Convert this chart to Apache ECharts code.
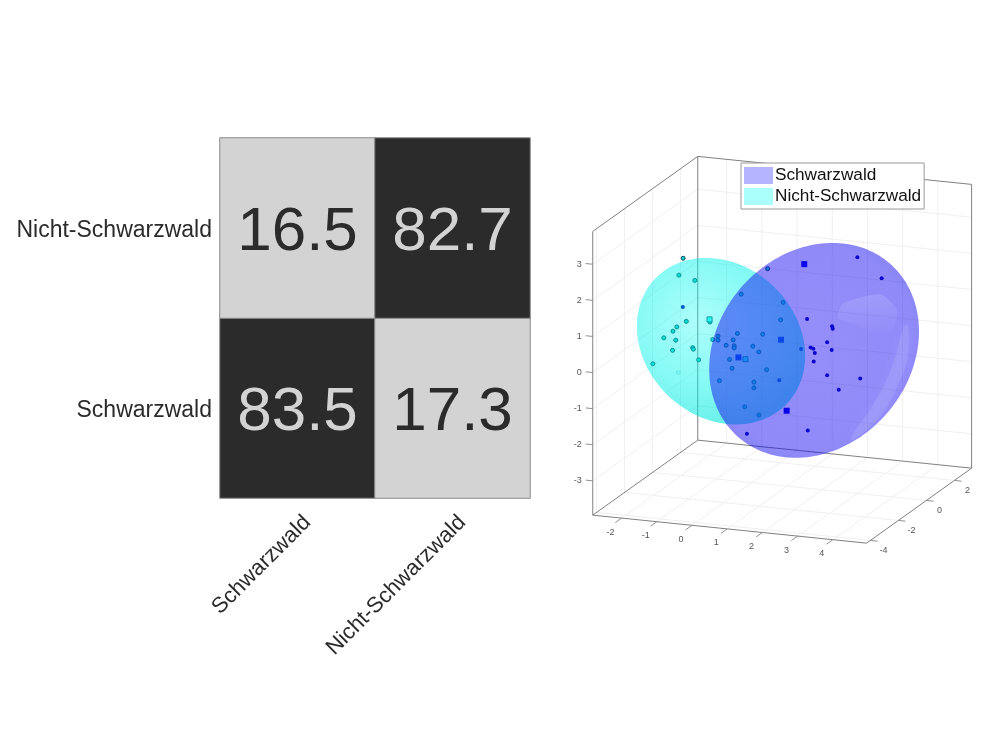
<!DOCTYPE html>
<html>
<head>
<meta charset="utf-8">
<style>html,body{margin:0;padding:0;background:#fff}#chart{width:1000px;height:750px}</style>
<script src="https://cdn.jsdelivr.net/npm/echarts@6/dist/echarts.min.js"></script>
</head>
<body>
<div id="chart"></div>
<script>
// Confusion matrix
const classNames = ['Schwarzwald', 'Nicht-Schwarzwald'];
const matrixRowSchwarzwald = [83.5, 17.3];
const matrixRowNicht = [16.5, 82.7];

// Axis ranges and ticks of the 3D feature space
const xLimits = [-2.82, 4.96];
const yLimits = [-4.27, 3.23];
const zLimits = [-3.95, 3.91];
const xTicks = [-2, -1, 0, 1, 2, 3, 4];
const yTicks = [-4, -2, 0, 2];
const zTicks = [-3, -2, -1, 0, 1, 2, 3];

// Samples, all placed on the plane y = sampleDepth
const sampleDepth = 0;
const cyanX = [-1.95,-2.07,-1.62,-1.86,-2.13,-2.24,-2.50,-2.16,-2.25,-1.68,-1.66,-2.81,-1.51,-1.19,-1.11,-0.96,-0.96,-0.41,-0.53,-0.73,-0.50,-0.50,0.03,0.20,-0.63,-0.56,0.42,-0.30,0.45,0.89,0.82,0.31,-0.92,0.06,0.06,-0.20,0.20];
const cyanZ = [2.07,1.59,1.49,0.33,0.15,0.02,-0.19,-0.22,-0.51,-0.38,-0.42,-0.94,-0.70,0.38,-0.10,0.01,-0.10,0.14,-0.05,-0.22,-0.21,-0.27,-0.17,-0.31,-0.60,-0.84,-0.78,1.24,2.02,1.13,0.64,0.19,-1.22,-1.16,-1.32,-1.87,-2.06];
const cyanFaintX = [-2.09];
const cyanFaintZ = [-1.11];
const cyanMeanX = [-1.20, -0.18];
const cyanMeanZ = [0.45, -0.55];
const blueX = [-1.96,1.40,1.57,3.00,3.69,2.28,2.30,2.14,1.67,1.75,2.27,1.79,1.76,2.14,3.08,2.47,0.78,1.59,-0.14];
const blueZ = [0.72,-0.11,0.74,2.59,2.08,0.61,0.54,0.15,-0.04,-0.07,-0.05,-0.18,-0.42,-0.76,-0.76,-1.13,-1.04,-2.35,-2.61];
const blueMeanX = [1.49, 0.83, -0.38, 0.99];
const blueMeanZ = [2.25, 0.09, -0.52, -1.86];

// Confidence ellipsoids: centre and the two semi-axes that span the outline
const cyanCentre = [-0.875, 0, -0.12];
const cyanAxisA = [2.39, 0, -0.17];
const cyanAxisB = [0, 0, 2.27];
const blueCentre = [1.77, 0, -0.11];
const blueAxisA = [2.98, 0, 0.82];
const blueAxisB = [0, 0, 2.93];

// Orthographic view used for the 3D panel
const viewOrigin = [751.8, 340];
const viewX = [35.2, 3.6];
const viewY = [14, -10];
const viewZ = [0, -36.1];
function project(x, y, z) {
  return [
    viewOrigin[0] + x * viewX[0] + y * viewY[0] + z * viewZ[0],
    viewOrigin[1] + x * viewX[1] + y * viewY[1] + z * viewZ[1]
  ];
}

const FONT = '"Liberation Sans", Arial, sans-serif';
const LIGHT = '#d3d3d3';
const DARK = '#2b2b2b';

// Heatmap cells
const cells = [];
[matrixRowSchwarzwald, matrixRowNicht].forEach((row, r) => row.forEach((v, c) => {
  const high = v > 50;
  cells.push({
    value: [c, r, v],
    itemStyle: { color: high ? DARK : LIGHT },
    label: { color: high ? LIGHT : DARK }
  });
}));

// Box wireframe
const [x0, x1] = xLimits, [y0, y1] = yLimits, [z0, z1] = zLimits;
const gridSegs = [];
xTicks.forEach(t => { gridSegs.push([t, y1, z0, t, y1, z1], [t, y0, z0, t, y1, z0]); });
yTicks.forEach(t => { gridSegs.push([x0, t, z0, x0, t, z1], [x0, t, z0, x1, t, z0]); });
zTicks.forEach(t => { gridSegs.push([x0, y0, t, x0, y1, t], [x0, y1, t, x1, y1, t]); });
const edgeSegs = [
  [x0, y0, z0, x1, y0, z0], [x1, y0, z0, x1, y1, z0], [x1, y1, z0, x0, y1, z0], [x0, y1, z0, x0, y0, z0],
  [x0, y0, z0, x0, y0, z1], [x0, y1, z0, x0, y1, z1], [x1, y1, z0, x1, y1, z1],
  [x0, y0, z1, x0, y1, z1], [x0, y1, z1, x1, y1, z1]
];
const tickSegs = [];
xTicks.forEach(t => tickSegs.push([t, y0, z0, t, y0 - 0.45, z0]));
yTicks.forEach(t => tickSegs.push([x1, t, z0, x1 + 0.2, t, z0]));
zTicks.forEach(t => tickSegs.push([x0, y0, t, x0 - 0.2, y0, t]));

function segmentSeries(name, segs, color, width, z) {
  return {
    type: 'custom', name, xAxisIndex: 1, yAxisIndex: 1, z, silent: true, clip: false,
    data: segs,
    renderItem(params, api) {
      const a = api.coord(project(api.value(0), api.value(1), api.value(2)));
      const b = api.coord(project(api.value(3), api.value(4), api.value(5)));
      return { type: 'line', shape: { x1: a[0], y1: a[1], x2: b[0], y2: b[1] }, style: { stroke: color, lineWidth: width, fill: null } };
    }
  };
}

// Tick labels of the three axes
const tickTexts = [];
xTicks.forEach(t => tickTexts.push({ p: [t, y0, z0], dx: -11, dy: 14, text: String(t), align: 'center' }));
yTicks.forEach(t => tickTexts.push({ p: [x1, t, z0], dx: 13, dy: 10, text: String(t), align: 'center' }));
zTicks.forEach(t => tickTexts.push({ p: [x0, y0, t], dx: -11, dy: 0, text: String(t), align: 'right' }));

// Ellipsoid silhouette with its shading
function shellSeries(name, centre, axisA, axisB, gradient, patches, z) {
  const outline = (u, v) => project(
    centre[0] + u * axisA[0] + v * axisB[0],
    centre[1] + u * axisA[1] + v * axisB[1],
    centre[2] + u * axisA[2] + v * axisB[2]);
  return {
    type: 'custom', name, xAxisIndex: 1, yAxisIndex: 1, z, silent: true, clip: false,
    data: [[centre[0], centre[2]]],
    renderItem(params, api) {
      const ring = [];
      for (let i = 0; i < 180; i++) {
        const t = i / 180 * Math.PI * 2;
        ring.push(api.coord(outline(Math.cos(t), Math.sin(t))));
      }
      const children = [{ type: 'polygon', shape: { points: ring }, style: { fill: gradient } }];
      patches.forEach(p => children.push({
        type: 'polygon',
        shape: { points: p.points.map(q => api.coord(outline(q[0], q[1]))), smooth: p.smooth || 0 },
        style: { fill: p.fill, shadowBlur: p.blur || 0, shadowColor: p.blur ? 'rgba(255,255,255,0.5)' : 'transparent' }
      }));
      return { type: 'group', children };
    }
  };
}
function crescent(a0, a1, rows) {
  const outer = [], inner = [];
  rows.forEach((r, i) => {
    const a = (a0 + (a1 - a0) * i / (rows.length - 1)) * Math.PI / 180;
    outer.push([r[1] * Math.cos(a), r[1] * Math.sin(a)]);
    inner.push([r[0] * Math.cos(a), r[0] * Math.sin(a)]);
  });
  return outer.concat(inner.reverse());
}

const cyanShade = new echarts.graphic.RadialGradient(0.36, 0.38, 0.68, [
  { offset: 0, color: 'rgba(0,250,240,0.32)' },
  { offset: 0.5, color: 'rgba(0,245,235,0.46)' },
  { offset: 1, color: 'rgba(0,225,215,0.6)' }
]);
const blueShade = new echarts.graphic.RadialGradient(0.5, 0.5, 0.7, [
  { offset: 0, color: 'rgba(25,10,245,0.46)' },
  { offset: 0.72, color: 'rgba(20,10,240,0.48)' },
  { offset: 1, color: 'rgba(15,0,225,0.54)' }
]);
const blueCap = {
  points: [[0.276, 0.395], [0.63, 0.418], [0.79, 0.242], [0.724, 0], [0.44, 0.153], [0.229, 0.262]],
  smooth: 0.2,
  fill: new echarts.graphic.LinearGradient(0, 0, 0, 1, [
    { offset: 0, color: 'rgba(255,255,255,0.14)' },
    { offset: 1, color: 'rgba(255,255,255,0)' }
  ])
};
const blueRim = {
  points: crescent(5, -68, [[0.86, 0.9], [0.8, 0.92], [0.8, 0.93], [0.84, 0.97], [0.95, 0.99]]),
  smooth: 0.4,
  blur: 8,
  fill: 'rgba(255,255,255,0.09)'
};

const option = {
  animation: false,
  backgroundColor: '#fff',
  textStyle: { fontFamily: FONT },
  legend: {
    left: 741, top: 163, orient: 'vertical',
    padding: [4, 3, 4, 3], itemGap: 4, itemWidth: 29, itemHeight: 17,
    backgroundColor: '#fff', borderColor: '#999', borderWidth: 1,
    textStyle: { fontFamily: FONT, fontSize: 17.2, color: '#111', padding: [1, 0, 0, -3] },
    selectedMode: false,
    data: [
      { name: classNames[0], icon: 'rect', itemStyle: { color: '#b4b4ff', borderWidth: 0 } },
      { name: classNames[1], icon: 'rect', itemStyle: { color: '#aafffb', borderWidth: 0 } }
    ]
  },
  grid: [
    { left: 220, top: 138, width: 310, height: 360 },
    { left: 0, top: 0, width: 1000, height: 750 }
  ],
  xAxis: [
    {
      type: 'category', gridIndex: 0, data: classNames,
      axisLine: { show: false }, axisTick: { show: false }, splitLine: { show: false },
      axisLabel: { rotate: 45, margin: 31, fontSize: 22, color: DARK, fontFamily: FONT, interval: 0, padding: [0, -14, 0, 0] }
    },
    { type: 'value', gridIndex: 1, min: 0, max: 1000, show: false }
  ],
  yAxis: [
    {
      type: 'category', gridIndex: 0, data: classNames,
      axisLine: { show: false }, axisTick: { show: false }, splitLine: { show: false },
      axisLabel: { margin: 8, fontSize: 23, color: DARK, fontFamily: FONT, interval: 0, verticalAlign: 'top', lineHeight: 6 }
    },
    { type: 'value', gridIndex: 1, min: 0, max: 750, inverse: true, show: false }
  ],
  series: [
    {
      type: 'heatmap', name: 'Konfusionsmatrix', xAxisIndex: 0, yAxisIndex: 0, silent: true,
      data: cells,
      itemStyle: { borderColor: '#8a8a8a', borderWidth: 1 },
      label: { show: true, fontSize: 62, fontFamily: FONT, offset: [0, 5], formatter: p => p.value[2].toFixed(1) }
    },
    segmentSeries('Gitter', gridSegs, '#f0f0f0', 1, 1),
    segmentSeries('Rahmen', edgeSegs, '#808080', 1, 2),
    segmentSeries('Striche', tickSegs, '#909090', 1, 2),
    {
      type: 'custom', name: 'Achsenbeschriftung', xAxisIndex: 1, yAxisIndex: 1, z: 2, silent: true, clip: false,
      data: tickTexts.map(t => t.p),
      renderItem(params, api) {
        const t = tickTexts[params.dataIndex];
        const c = api.coord(project(t.p[0], t.p[1], t.p[2]));
        return { type: 'text', style: { text: t.text, x: c[0] + t.dx, y: c[1] + t.dy, fill: '#555', font: '9px ' + FONT, textAlign: t.align, textVerticalAlign: 'middle' } };
      }
    },
    {
      type: 'scatter', name: 'Nicht-Schwarzwald Proben', xAxisIndex: 1, yAxisIndex: 1, z: 3, silent: true,
      symbol: 'circle', symbolSize: 4,
      itemStyle: { color: '#10d0d0', borderColor: '#0a4a52', borderWidth: 1, opacity: 1 },
      data: cyanX.map((x, i) => project(x, sampleDepth, cyanZ[i]))
    },
    {
      type: 'scatter', name: 'Nicht-Schwarzwald Proben blass', xAxisIndex: 1, yAxisIndex: 1, z: 3, silent: true,
      symbol: 'circle', symbolSize: 4,
      itemStyle: { color: '#10d0d0', borderColor: '#0a4a52', borderWidth: 1, opacity: 0.15 },
      data: cyanFaintX.map((x, i) => project(x, sampleDepth, cyanFaintZ[i]))
    },
    {
      type: 'scatter', name: 'Nicht-Schwarzwald Mittel', xAxisIndex: 1, yAxisIndex: 1, z: 3, silent: true,
      symbol: 'rect', symbolSize: 5,
      itemStyle: { color: '#40ffff', borderColor: '#0a6a78', borderWidth: 1, opacity: 1 },
      data: cyanMeanX.map((x, i) => project(x, sampleDepth, cyanMeanZ[i]))
    },
    {
      type: 'scatter', name: 'Schwarzwald Proben', xAxisIndex: 1, yAxisIndex: 1, z: 3, silent: true,
      symbol: 'circle', symbolSize: 4,
      itemStyle: { color: '#0000b0', opacity: 1 },
      data: blueX.map((x, i) => project(x, sampleDepth, blueZ[i]))
    },
    {
      type: 'scatter', name: 'Schwarzwald Mittel', xAxisIndex: 1, yAxisIndex: 1, z: 3, silent: true,
      symbol: 'rect', symbolSize: 6,
      itemStyle: { color: '#0000e0', opacity: 1 },
      data: blueMeanX.map((x, i) => project(x, sampleDepth, blueMeanZ[i]))
    },
    shellSeries(classNames[1], cyanCentre, cyanAxisA, cyanAxisB, cyanShade, [], 4),
    shellSeries(classNames[0], blueCentre, blueAxisA, blueAxisB, blueShade, [blueCap, blueRim], 5)
  ]
};
echarts.init(document.getElementById('chart'), null, { renderer: 'canvas' }).setOption(option);
</script>
</body>
</html>
